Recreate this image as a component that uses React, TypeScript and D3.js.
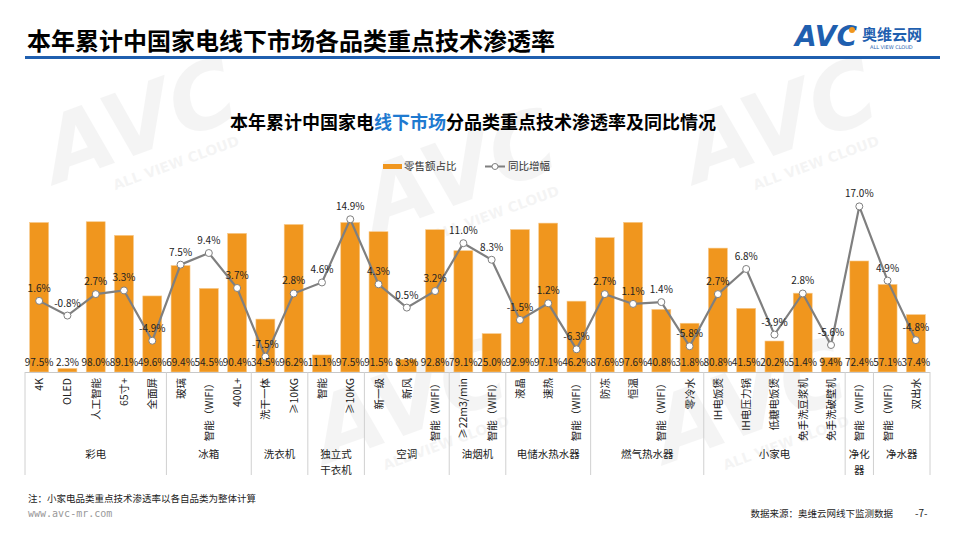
import * as d3 from 'd3';
import React from 'react';

// 数据
const groups = ['彩电', '冰箱', '洗衣机', '独立式\n干衣机', '空调', '油烟机', '电储水热水器', '燃气热水器', '小家电', '净化\n器', '净水器'];
const groupSizes = [5, 3, 2, 2, 3, 2, 3, 4, 5, 1, 2];
const techs = [
  '4K', 'OLED', '人工智能', '65寸+', '全面屏',
  '玻璃', '智能（WIFI）', '400L+',
  '洗干一体', '≥10KG',
  '智能', '≥10KG',
  '新一级', '新风', '智能（WIFI）',
  '≥22m3/min', '智能（WIFI）',
  '液晶', '速热', '智能（WIFI）',
  '防冻', '恒温', '智能（WIFI）', '零冷水',
  'IH电饭煲', 'IH电压力锅', '低糖电饭煲', '免手洗豆浆机', '免手洗破壁机',
  '智能（WIFI）',
  '智能（WIFI）', '双出水',
];
const shareValues = [
  97.5, 2.3, 98.0, 89.1, 49.6,
  69.4, 54.5, 90.4,
  34.5, 96.2,
  11.1, 97.5,
  91.5, 8.3, 92.8,
  79.1, 25.0,
  92.9, 97.1, 46.2,
  87.6, 97.6, 40.8, 31.8,
  80.8, 41.5, 20.2, 51.4, 9.4,
  72.4,
  57.1, 37.4,
];
const growthValues = [
  1.6, -0.8, 2.7, 3.3, -4.9,
  7.5, 9.4, 3.7,
  -7.5, 2.8,
  4.6, 14.9,
  4.3, 0.5, 3.2,
  11.0, 8.3,
  -1.5, 1.2, -6.3,
  2.7, 1.1, 1.4, -5.8,
  2.7, 6.8, -3.9, 2.8, -5.6,
  17.0,
  4.9, -4.8,
];

const W = 960;
const H = 540;
const ORANGE = '#F0961E';
const GRAY = '#7F7F7F';
const BLUE = '#1F5FAF';
const FONT = '"Noto Sans CJK SC", "Noto Sans", sans-serif';

function App() {
  const idx = techs.map((_, i) => i);
  const x = d3.scaleBand<number>().domain(idx).range([25, 930]).paddingInner(0.33).paddingOuter(0.165);
  const yBar = d3.scaleLinear().domain([0, 120]).range([372, 188]);
  const yLine = d3.scaleLinear().domain([-10, 20]).range([372, 188]);
  const cx = (i: number) => (x(i) as number) + x.bandwidth() / 2;
  const step = x.step();

  const line = d3.line<number>()
    .x((_, i) => cx(i))
    .y((d) => yLine(d));

  // 分组边界
  const bounds: number[] = [0];
  groupSizes.forEach((s) => bounds.push(bounds[bounds.length - 1] + s));
  const bx = (k: number) => 25 + k * step;

  const fmt = (v: number) => v.toFixed(1) + '%';

  return (
    <svg width={W} height={H} style={{ position: 'absolute', left: 0, top: 0, fontFamily: FONT }}>
      <rect width={W} height={H} fill="#fff" />

      {/* 水印 */}
      {[[150, 150], [470, 200], [790, 150], [420, 430], [760, 430]].map(([wx, wy], k) => (
        <g key={k} transform={`translate(${wx},${wy}) rotate(-20)`} opacity={0.06}>
          <text textAnchor="middle" fontSize={90} fontWeight="bold" fontStyle="italic" fill="#555" fontFamily="DejaVu Sans">AVC</text>
          <text x={20} y={26} textAnchor="middle" fontSize={14} fontWeight="bold" fill="#555" fontFamily="DejaVu Sans">ALL VIEW CLOUD</text>
        </g>
      ))}

      {/* 页眉 */}
      <text x={27} y={50} fontSize={24} fontWeight="bold" fill="#000">本年累计中国家电线下市场各品类重点技术渗透率</text>
      <rect x={25} y={56} width={915} height={3} fill={BLUE} />
      <text x={795} y={46} fontSize={28} fontWeight="bold" fontStyle="italic" fill={BLUE} fontFamily="DejaVu Sans">AVC</text>
      <circle cx={852} cy={30} r={3} fill={ORANGE} />
      <text x={862} y={40} fontSize={15} fontWeight="bold" fill={BLUE}>奥维云网</text>
      <text x={870} y={49} fontSize={5} fill={BLUE} fontFamily="DejaVu Sans">ALL VIEW CLOUD</text>

      {/* 图表标题 */}
      <text x={473} y={129} textAnchor="middle" fontSize={18} fontWeight="bold" fill="#000">
        本年累计中国家电<tspan fill="#1F7AD0">线下市场</tspan>分品类重点技术渗透率及同比情况
      </text>

      {/* 图例 */}
      <rect x={383} y={164} width={19} height={5} fill={ORANGE} />
      <text x={404} y={170} fontSize={10.5} fill="#333">零售额占比</text>
      <line x1={485} x2={505} y1={166.5} y2={166.5} stroke={GRAY} strokeWidth={2} />
      <circle cx={495} cy={166.5} r={3} fill="#fff" stroke={GRAY} strokeWidth={1} />
      <text x={508} y={170} fontSize={10.5} fill="#333">同比增幅</text>

      {/* 柱 */}
      {shareValues.map((v, i) => (
        <rect key={i} x={x(i)} y={yBar(v)} width={x.bandwidth()} height={yBar(0) - yBar(v)} fill={ORANGE} stroke="#F7C98A" strokeWidth={0.6} />
      ))}

      {/* 折线 */}
      <path d={line(growthValues) as string} fill="none" stroke={GRAY} strokeWidth={2.2} />
      {growthValues.map((v, i) => (
        <circle key={i} cx={cx(i)} cy={yLine(v)} r={3.5} fill="#fff" stroke={GRAY} strokeWidth={1} />
      ))}
      {growthValues.map((v, i) => (
        <text key={i} x={cx(i)} y={yLine(v) - 9} textAnchor="middle" fontSize={10} fill="#222">{fmt(v)}</text>
      ))}

      {/* 柱底数值 */}
      {shareValues.map((v, i) => (
        <text key={i} x={cx(i)} y={366} textAnchor="middle" fontSize={10} fill="#222">{fmt(v)}</text>
      ))}

      {/* 表格轴 */}
      <line x1={25} x2={930} y1={372.5} y2={372.5} stroke="#C8C8C8" />
      {bounds.map((k, j) => (
        <line key={j} x1={bx(k)} x2={bx(k)} y1={372} y2={475} stroke="#D0D0D0" />
      ))}
      {techs.map((t, i) => (
        <text key={i} transform={`translate(${cx(i) + 4},378) rotate(-90)`} textAnchor="end" fontSize={10.5} fill="#222">{t}</text>
      ))}
      {groups.map((g, j) => {
        const mid = (bx(bounds[j]) + bx(bounds[j + 1])) / 2;
        return g.split('\n').map((l, k) => (
          <text key={`${j}-${k}`} x={mid} y={458 + k * 15.5} textAnchor="middle" fontSize={10.5} fill="#222">{l}</text>
        ));
      })}

      {/* 页脚 */}
      <text x={28} y={502} fontSize={9.5} fill="#222">注：小家电品类重点技术渗透率以各自品类为整体计算</text>
      <text x={28} y={517} fontSize={10} fill="#999" fontFamily="DejaVu Sans Mono">www.avc-mr.com</text>
      <text x={893} y={517} textAnchor="end" fontSize={9.5} fill="#222">数据来源：奥维云网线下监测数据</text>
      <text x={915} y={517} fontSize={10} fill="#222">-7-</text>
    </svg>
  );
}

export default App;
